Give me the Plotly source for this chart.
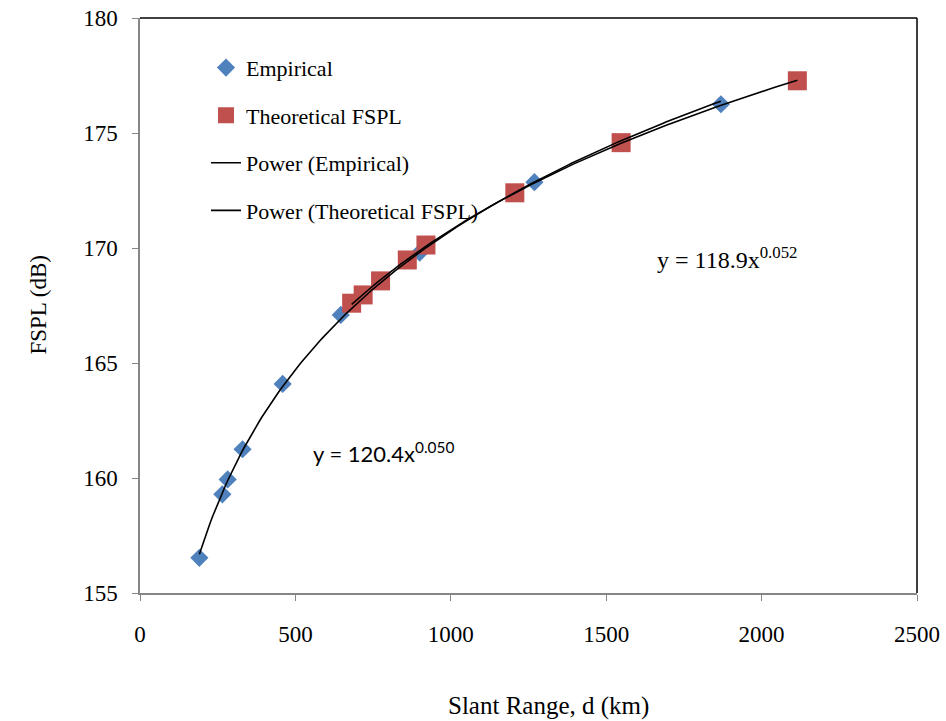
import numpy as np
import plotly.graph_objects as go

# Empirical data (slant range km, FSPL dB)
emp_x = [191, 265, 282, 330, 459, 646, 900, 1269, 1869]
emp_y = [156.53, 159.29, 159.94, 161.25, 164.09, 167.09, 169.80, 172.86, 176.25]

# Theoretical FSPL
th_x = [681, 718, 774, 860, 920, 1206, 1548, 2115]
th_y = [167.60, 167.96, 168.57, 169.48, 170.13, 172.40, 174.58, 177.27]

x_ticks = [0, 500, 1000, 1500, 2000, 2500]
y_ticks = [155, 160, 165, 170, 175, 180]

BLUE = "#4F81BD"
RED = "#C0504D"
SERIF = "Liberation Serif, Times New Roman, serif"


def power_fit(xs, ys):
    lx, ly = np.log(xs), np.log(ys)
    b, ln_a = np.polyfit(lx, ly, 1)
    xx = np.linspace(min(xs), max(xs), 200)
    return xx, np.exp(ln_a) * xx ** b


fx1, fy1 = power_fit(emp_x, emp_y)
fx2, fy2 = power_fit(th_x, th_y)

fig = go.Figure()
fig.add_trace(go.Scatter(x=emp_x, y=emp_y, mode="markers", name="Empirical",
                         legendgroup="a",
                         marker=dict(symbol="diamond", size=14, color=BLUE,
                                     line=dict(width=0))))
fig.add_trace(go.Scatter(x=th_x, y=th_y, mode="markers", name="Theoretical FSPL",
                         legendgroup="b",
                         marker=dict(symbol="square", size=19, color=RED,
                                     line=dict(width=0))))
fig.add_trace(go.Scatter(x=fx1, y=fy1, mode="lines", name="Power (Empirical)",
                         legendgroup="c",
                         line=dict(color="black", width=1.6)))
fig.add_trace(go.Scatter(x=fx2, y=fy2, mode="lines", name="Power (Theoretical FSPL)",
                         legendgroup="d",
                         line=dict(color="black", width=1.6)))

axis_common = dict(showgrid=False, zeroline=False, showline=True,
                   linecolor="#868686", linewidth=1.5, ticks="outside",
                   ticklen=6, tickcolor="#868686", tickwidth=1.2,
                   ticklabeloverflow="allow",
                   tickfont=dict(family=SERIF, size=23, color="black"))

fig.update_xaxes(range=[0, 2500], tickvals=x_ticks,
                 ticktext=[str(v) for v in x_ticks], ticklabelstandoff=14,
                 **axis_common)
fig.update_yaxes(range=[155, 180], tickvals=y_ticks,
                 ticktext=[str(v) for v in y_ticks], ticklabelstandoff=10,
                 **axis_common)

# top and right frame borders
fig.add_shape(type="line", xref="paper", yref="paper", x0=0, x1=1, y0=1, y1=1,
              line=dict(color="black", width=1.5))
fig.add_shape(type="line", xref="paper", yref="paper", x0=1, x1=1, y0=0, y1=1,
              line=dict(color="black", width=1.5))

fig.add_annotation(text="y = 120.4x<sup>0.050</sup>", x=785, y=161.1,
                   xref="x", yref="y", showarrow=False,
                   font=dict(family="Lato, Open Sans, sans-serif", size=22, color="black"))
fig.add_annotation(text="y = 118.9x<sup>0.052</sup>", x=1890, y=169.55,
                   xref="x", yref="y", showarrow=False,
                   font=dict(family=SERIF, size=24, color="black"))

fig.add_annotation(text="FSPL (dB)", xref="paper", yref="paper",
                   x=(23 - 140) / 777, y=1 - (305 - 18) / 575,
                   showarrow=False, textangle=-90,
                   font=dict(family=SERIF, size=23, color="black"))
fig.add_annotation(text="Slant Range, d (km)", x=(548 - 140) / 777, y=-0.168,
                   xref="paper", yref="paper", yanchor="top", showarrow=False,
                   font=dict(family=SERIF, size=25, color="black"))

fig.update_layout(
    width=946, height=721,
    margin=dict(l=140, r=29, t=18, b=128, autoexpand=False),
    paper_bgcolor="white", plot_bgcolor="white",
    showlegend=True,
    legend=dict(x=(206 - 140) / 777, y=0.95, xanchor="left", yanchor="top",
                bgcolor="rgba(0,0,0,0)", tracegroupgap=16,
                font=dict(family=SERIF, size=22, color="black")),
)

# remove the default 8px page margin so the figure fills the window exactly
fig.write_html("out.html",
               config={"displayModeBar": False},
               post_script="document.body.style.margin='0';document.body.style.overflow='hidden';")
